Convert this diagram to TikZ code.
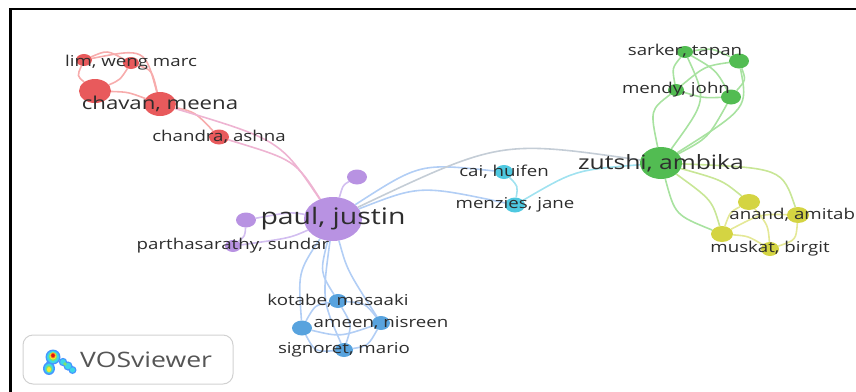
\documentclass[tikz,border=0pt]{standalone}
\usepackage{fontspec}
\setmainfont{Open Sans}
\usetikzlibrary{shapes.geometric,backgrounds}
\definecolor{cR}{RGB}{232,90,92}
\definecolor{cP}{RGB}{184,146,226}
\definecolor{cB}{RGB}{88,163,222}
\definecolor{cC}{RGB}{78,200,224}
\definecolor{cG}{RGB}{82,188,82}
\definecolor{cY}{RGB}{212,212,66}
\definecolor{eR}{RGB}{247,172,172}
\definecolor{eP}{RGB}{210,190,240}
\definecolor{eB}{RGB}{178,206,245}
\definecolor{eC}{RGB}{160,226,240}
\definecolor{eG}{RGB}{168,226,160}
\definecolor{eY}{RGB}{228,232,150}
\definecolor{eRP}{RGB}{238,180,210}
\definecolor{ePG}{RGB}{196,205,214}
\definecolor{eGY}{RGB}{200,230,150}
\definecolor{txt}{RGB}{45,45,45}
\definecolor{logotxt}{RGB}{85,85,85}
\definecolor{iB}{RGB}{70,150,255}
\definecolor{iC}{RGB}{60,215,230}
\definecolor{iG}{RGB}{130,225,110}
\definecolor{iY}{RGB}{245,235,50}
\definecolor{iO}{RGB}{250,150,30}
\definecolor{iR}{RGB}{225,20,20}
\newcommand{\sq}[1]{\scalebox{1}[0.8]{#1}}
\tikzset{
  nd/.style n args={3}{ellipse, inner sep=0pt, draw=none, fill=#1, minimum width=#2pt, minimum height=#3pt},
  ed/.style={draw=#1, line width=1.6pt},
  lab/.style={text=txt, inner sep=0pt, font=\fontsize{18.7}{20}\selectfont},
  labm/.style={text=txt, inner sep=0pt, font=\fontsize{22.2}{24}\selectfont},
  labz/.style={text=txt, inner sep=0pt, font=\fontsize{24.7}{26}\selectfont},
  labp/.style={text=txt, inner sep=0pt, font=\fontsize{28.4}{30}\selectfont},
}
\begin{document}
\begin{tikzpicture}[x=1pt,y=-1pt]
\clip (0,0) rectangle (856,391);
% frame
\draw[line width=2.8pt, line cap=rect] (10.5,395) -- (10.5,9) -- (860,9);
% nodes: red
\node[nd={cR}{16}{12}] (r1) at (84,60) {};
\node[nd={cR}{16}{12}] (r2) at (131,63) {};
\node[nd={cR}{32}{24}] (r3) at (95,91) {};
\node[nd={cR}{32}{24}] (chavan) at (160,104) {};
\node[nd={cR}{20}{15}] (chandra) at (219,137) {};
% purple
\node[nd={cP}{58}{44}] (paul) at (333,219) {};
\node[nd={cP}{20}{15}] (pup) at (357,177) {};
\node[nd={cP}{20}{15}] (pleft) at (246,220) {};
\node[nd={cP}{16}{12}] (parth) at (233,246) {};
% blue
\node[nd={cB}{18}{14}] (kotabe) at (338,301) {};
\node[nd={cB}{20}{15}] (ameenL) at (302,328) {};
\node[nd={cB}{18}{14}] (ameenR) at (381,323) {};
\node[nd={cB}{18}{14}] (signoret) at (344,350) {};
% cyan
\node[nd={cC}{18}{14}] (cai) at (504,172) {};
\node[nd={cC}{20}{15}] (menzies) at (515,205) {};
% green
\node[nd={cG}{42}{32}] (zutshi) at (661,163) {};
\node[nd={cG}{16}{12}] (sarker) at (685,52) {};
\node[nd={cG}{20}{15}] (grt) at (739,61) {};
\node[nd={cG}{16}{12}] (mendy) at (676,90) {};
\node[nd={cG}{20}{15}] (grm) at (731,97) {};
% yellow
\node[nd={cY}{22}{16}] (ytop) at (749,202) {};
\node[nd={cY}{22}{16}] (anand) at (798,215) {};
\node[nd={cY}{22}{16}] (muskL) at (722,234) {};
\node[nd={cY}{18}{14}] (muskR) at (770,249) {};
% edges
\begin{pgfonlayer}{background}
\draw[ed=eR] (r1) .. controls (107,50) .. (r2);
\draw[ed=eR] (r1) .. controls (77,76) .. (r3);
\draw[ed=eR] (r2) .. controls (120,80) .. (r3);
\draw[ed=eR] (r1) .. controls (145,48) .. (chavan);
\draw[ed=eR] (r2) .. controls (152,70) .. (chavan);
\draw[ed=eR] (r3) .. controls (128,92) .. (chavan);
\draw[ed=eR] (chavan) .. controls (195,112) .. (chandra);
\draw[ed=eRP] (chavan) .. controls (280,140) .. (paul);
\draw[ed=eRP] (chandra) .. controls (295,160) .. (paul);
\draw[ed=eP] (paul) .. controls (343,185) .. (pup);
\draw[ed=eP] (paul) .. controls (290,212) .. (pleft);
\draw[ed=eP] (paul) .. controls (290,238) .. (parth);
\draw[ed=eP] (pleft) .. controls (245,236) .. (parth);
\draw[ed=eB] (paul) .. controls (420,163) .. (cai);
\draw[ed=eB] (paul) .. controls (420,185) .. (menzies);
\draw[ed=ePG] (paul) .. controls (500,140) .. (zutshi);
\draw[ed=eB] (paul) .. controls (298,272) .. (ameenL);
\draw[ed=eB] (paul) .. controls (320,272) .. (kotabe);
\draw[ed=eB] (paul) .. controls (322,300) .. (signoret);
\draw[ed=eB] (paul) .. controls (347,270) .. (ameenR);
\draw[ed=eB] (kotabe) .. controls (315,305) .. (ameenL);
\draw[ed=eB] (kotabe) .. controls (365,303) .. (ameenR);
\draw[ed=eB] (kotabe) .. controls (352,325) .. (signoret);
\draw[ed=eB] (ameenL) .. controls (340,337) .. (ameenR);
\draw[ed=eB] (ameenL) .. controls (315,352) .. (signoret);
\draw[ed=eB] (ameenR) .. controls (368,346) .. (signoret);
\draw[ed=eC] (cai) .. controls (518,186) .. (menzies);
\draw[ed=eC] (menzies) .. controls (575,170) .. (zutshi);
\draw[ed=eG] (zutshi) .. controls (707,100) .. (sarker);
\draw[ed=eG] (zutshi) .. controls (650,110) .. (mendy);
\draw[ed=eG] (zutshi) .. controls (708,138) .. (grm);
\draw[ed=eG] (zutshi) .. controls (748,108) .. (grt);
\draw[ed=eG] (sarker) .. controls (712,48) .. (grt);
\draw[ed=eG] (sarker) .. controls (672,68) .. (mendy);
\draw[ed=eG] (sarker) .. controls (716,70) .. (grm);
\draw[ed=eG] (mendy) .. controls (705,66) .. (grt);
\draw[ed=eG] (mendy) .. controls (703,98) .. (grm);
\draw[ed=eG] (grt) .. controls (746,80) .. (grm);
\draw[ed=eGY] (zutshi) .. controls (722,180) .. (ytop);
\draw[ed=eGY] (zutshi) .. controls (782,168) .. (anand);
\draw[ed=eG] (zutshi) .. controls (675,215) .. (muskL);
\draw[ed=eGY] (zutshi) .. controls (712,200) .. (muskL);
\draw[ed=eY] (ytop) .. controls (730,212) .. (muskL);
\draw[ed=eY] (ytop) .. controls (768,225) .. (muskR);
\draw[ed=eY] (anand) .. controls (760,214) .. (muskL);
\draw[ed=eY] (anand) .. controls (796,240) .. (muskR);
\draw[ed=eY] (muskL) .. controls (748,236) .. (muskR);
\end{pgfonlayer}
% labels
\node[lab] (lr2) at (r2) {\sq{lim, weng marc}};
\node[labm] (lchavan) at (chavan) {\sq{chavan, meena}};
\node[lab] (lchandra) at (chandra) {\sq{chandra, ashna}};
\node[labp] (lpaul) at (paul) {\sq{paul, justin}};
\node[lab] (lparth) at (parth) {\sq{parthasarathy, sundar}};
\node[lab] (lkotabe) at (kotabe) {\sq{kotabe, masaaki}};
\node[lab] (lameen) at (ameenR) {\sq{ameen, nisreen}};
\node[lab] (lsign) at (signoret) {\sq{signoret, mario}};
\node[lab] (lcai) at (cai) {\sq{cai, huifen}};
\node[lab] (lmenz) at (menzies) {\sq{menzies, jane}};
\node[labz] (lzut) at (zutshi) {\sq{zutshi, ambika}};
\node[lab] (lsark) at (sarker) {\sq{sarker, tapan}};
\node[lab] (lmendy) at (mendy) {\sq{mendy, john}};
\node[lab] (lanand) at (anand) {\sq{anand, amitabh}};
\node[lab] (lmusk) at (muskR) {\sq{muskat, birgit}};
% logo box
\node[draw=black!18, line width=1pt, rounded corners=10pt, minimum width=210pt, minimum height=49pt, inner sep=0pt] (logo) at (128,359.5) {};
% logo icon (heat-map blobs)
\fill[iB] (53,357) ellipse (7.5 and 7.5);
\fill[iB] (50,363.5) ellipse (4 and 4);
\fill[iB] (49,368.5) ellipse (6 and 6.5);
\fill[iB] (63,362) circle (4.2);
\fill[iB] (68,366) circle (4.6);
\fill[iB] (72.5,370) circle (4);
\fill[iC] (53,357) ellipse (6 and 6);
\fill[iC] (49,368.5) ellipse (4.5 and 5);
\fill[iC] (63,362) circle (2.8);
\fill[iC] (68,366) circle (3.2);
\fill[iC] (72.5,370) circle (2.6);
\fill[iG] (53,356.5) ellipse (4.3 and 4.5);
\fill[iG] (49,369) ellipse (3 and 3.5);
\fill[iG] (65,364) circle (1.8);
\fill[iY] (53,356) ellipse (3.3 and 3.6);
\fill[iY] (49,369.5) ellipse (2 and 2.5);
\fill[iO] (53,355.5) ellipse (2.6 and 2.9);
\fill[iR] (53,355.5) ellipse (1.8 and 2.1);
\node[text=logotxt, inner sep=0pt, anchor=west, font=\fontsize{26.6}{28}\selectfont] (vos) at (80,360) {\sq{VOSviewer}};
\end{tikzpicture}
\end{document}
